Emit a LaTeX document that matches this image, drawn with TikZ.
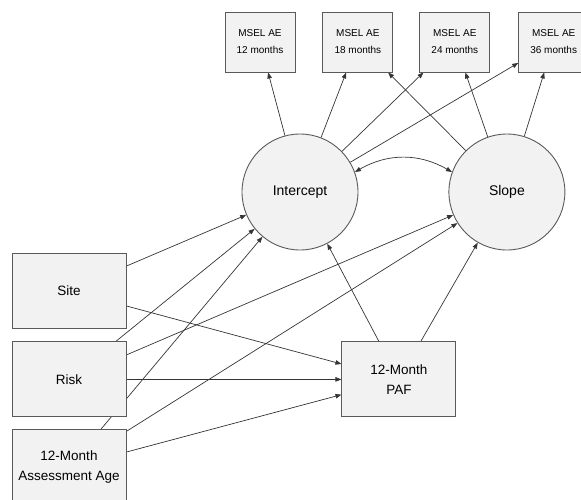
\documentclass[tikz,border=0pt]{standalone}
\usepackage{fontspec}
\setmainfont{Liberation Sans}
\usetikzlibrary{positioning, arrows.meta, backgrounds}
\definecolor{boxfill}{HTML}{F2F2F2}
\definecolor{boxline}{HTML}{5A5A5A}
\definecolor{pathline}{HTML}{353535}
\tikzset{>={Triangle[length=6pt,width=4.5pt]}}
\tikzset{latent/.style={circle, draw=boxline, line width=0.9pt, fill=boxfill, minimum size=116pt, inner sep=0pt, font=\fontsize{14}{17}\selectfont}}

\begin{document}
\begin{tikzpicture}
    [observed/.style={draw=boxline, line width=0.9pt, fill=boxfill, align=center, minimum width=114pt, minimum height=75pt, inner sep=0pt, font=\fontsize{13.5}{20}\selectfont},
      outcome/.style={draw=boxline, line width=0.9pt, fill=boxfill, align=center, minimum width=70pt, minimum height=60pt, inner sep=0pt, font=\fontsize{10}{17}\selectfont},
      reg/.style={->, draw=pathline, line width=0.7pt},
      cov/.style={<->, draw=pathline, line width=0.7pt}]

    \useasboundingbox (0,0) rectangle (581pt,-499pt);

    \node[latent] (I) at (300pt,-192pt) {Intercept};
    \node[latent, right=90pt of I] (S) {Slope};

    \node[outcome] (M12) at (260pt,-42pt) {MSEL AE \\ 12 months};
    \node[outcome, right=27pt of M12] (M18) {MSEL AE \\ 18 months};
    \node[outcome, right=26pt of M18] (M24) {MSEL AE \\ 24 months};
    \node[outcome, right=28pt of M24] (M36) {MSEL AE \\ 36 months};

    \node[observed] (Site) at (69pt,-290.5pt) {Site};
    \node[observed, below=13pt of Site] (Risk) {Risk};
    \node[observed, below=12pt of Risk] (Age) {12-Month \\ Assessment Age};

    \node[observed, right=215pt of Risk] (PAF) {12-Month \\ PAF};

    \begin{scope}[on background layer]
      \draw[reg] (I) -- (M12);
      \draw[reg] (I) -- (M18);
      \draw[reg] (I) -- (M24);
      \draw[reg] (I) -- (M36);
      \draw[reg] (S) -- (M18);
      \draw[reg] (S) -- (M24);
      \draw[reg] (S) -- (M36);

      \draw[cov] (I.20) to[bend left=30] (S.160);

      \draw[reg] (Site) -- (I);
      \draw[reg] (Risk) -- (I);
      \draw[reg] (Age) -- (I);
      \draw[reg] (PAF) -- (I);

      \draw[reg] (Risk) -- (S);
      \draw[reg] (Age) -- (S);
      \draw[reg] (PAF) -- (S);

      \draw[reg] (Site) -- (PAF);
      \draw[reg] (Risk) -- (PAF);
      \draw[reg] (Age) -- (PAF);
    \end{scope}
  \end{tikzpicture}
\end{document}
